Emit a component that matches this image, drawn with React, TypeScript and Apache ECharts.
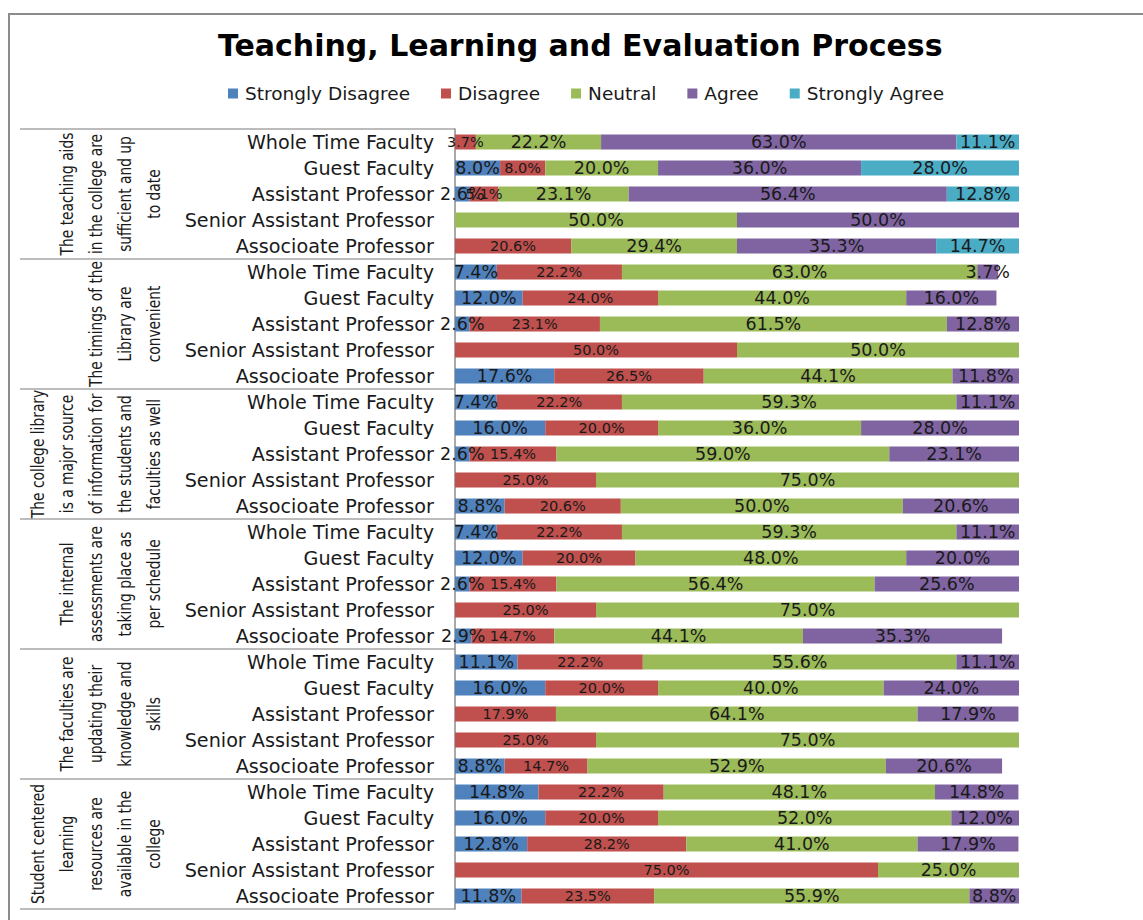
import React, { useEffect, useRef } from "react";
import * as echarts from "echarts";

const titleText = "Teaching, Learning and Evaluation Process";
const seriesNames = ["Strongly Disagree", "Disagree", "Neutral", "Agree", "Strongly Agree"];
const seriesColors = ["#4F81BD", "#C0504D", "#9BBB59", "#8064A2", "#4BACC6"];

const roles = [
  "Whole Time Faculty",
  "Guest Faculty",
  "Assistant Professor",
  "Senior Assistant Professor",
  "Associoate Professor",
];

const groupLabels = [
  ["The teaching aids", "in the college are", "sufficient and up", "to date"],
  ["The timings of the", "Library are", "convenient"],
  ["The college library", "is a major source", "of information for", "the students and", "faculties as well"],
  ["The internal", "assessments are", "taking place as", "per schedule"],
  ["The faculties are", "updating their", "knowledge and", "skills"],
  ["Student centered", "learning", "resources are", "available in the", "college"],
];

const stronglyDisagree = [
  0, 8.0, 2.6, 0, 0,
  7.4, 12.0, 2.6, 0, 17.6,
  7.4, 16.0, 2.6, 0, 8.8,
  7.4, 12.0, 2.6, 0, 2.9,
  11.1, 16.0, 0, 0, 8.8,
  14.8, 16.0, 12.8, 0, 11.8,
];
const disagree = [
  3.7, 8.0, 5.1, 0, 20.6,
  22.2, 24.0, 23.1, 50.0, 26.5,
  22.2, 20.0, 15.4, 25.0, 20.6,
  22.2, 20.0, 15.4, 25.0, 14.7,
  22.2, 20.0, 17.9, 25.0, 14.7,
  22.2, 20.0, 28.2, 75.0, 23.5,
];
const neutral = [
  22.2, 20.0, 23.1, 50.0, 29.4,
  63.0, 44.0, 61.5, 50.0, 44.1,
  59.3, 36.0, 59.0, 75.0, 50.0,
  59.3, 48.0, 56.4, 75.0, 44.1,
  55.6, 40.0, 64.1, 75.0, 52.9,
  48.1, 52.0, 41.0, 25.0, 55.9,
];
const agree = [
  63.0, 36.0, 56.4, 50.0, 35.3,
  3.7, 16.0, 12.8, 0, 11.8,
  11.1, 28.0, 23.1, 0, 20.6,
  11.1, 20.0, 25.6, 0, 35.3,
  11.1, 24.0, 17.9, 0, 20.6,
  14.8, 12.0, 17.9, 0, 8.8,
];
const stronglyAgree = [
  11.1, 28.0, 12.8, 0, 14.7,
  0, 0, 0, 0, 0,
  0, 0, 0, 0, 0,
  0, 0, 0, 0, 0,
  0, 0, 0, 0, 0,
  0, 0, 0, 0, 0,
];

const seriesValues = [stronglyDisagree, disagree, neutral, agree, stronglyAgree];

// layout constants
const W = 1143;
const H = 920;
const GRID_LEFT = 455;
const GRID_RIGHT = 1019;
const GRID_TOP = 129;
const ROW_H = 26;
const GROUP_H = ROW_H * roles.length;
const GRID_BOTTOM = GRID_TOP + ROW_H * roles.length * groupLabels.length;
const LINE_COLOR = "#8c8c8c";
const FONT = "'DejaVu Sans', Verdana, sans-serif";
const NARROW = "'DejaVu Sans Condensed', 'DejaVu Sans', sans-serif";

export default function App() {
  const ref = useRef<HTMLDivElement>(null);

  useEffect(() => {
    if (!ref.current) return;
    const chart = echarts.init(ref.current, undefined, { renderer: "svg" });

    const categories: string[] = [];
    groupLabels.forEach((_, g) => roles.forEach((r) => categories.push(g + "|" + r)));

    const graphics: any[] = [];
    // chart frame
    graphics.push({
      type: "polyline",
      silent: true,
      shape: { points: [[9, H], [9, 14], [W, 14]] },
      style: { stroke: LINE_COLOR, lineWidth: 2, fill: null },
    });
    // group separators of the multi-level category axis
    for (let g = 0; g <= groupLabels.length; g++) {
      const y = GRID_TOP + g * GROUP_H;
      graphics.push({
        type: "line",
        silent: true,
        shape: { x1: 20, y1: y, x2: GRID_LEFT, y2: y },
        style: { stroke: "#a6a6a6", lineWidth: 1.5 },
      });
    }
    // rotated group labels
    groupLabels.forEach((lines, g) => {
      const cy = GRID_TOP + g * GROUP_H + GROUP_H / 2;
      const n = lines.length;
      lines.forEach((line, i) => {
        graphics.push({
          type: "text",
          silent: true,
          x: 153 - (n - 1 - i) * 29,
          y: cy,
          rotation: Math.PI / 2,
          scaleX: 0.83,
          style: {
            text: line,
            fontSize: 18.5,
            fontFamily: NARROW,
            fill: "#1a1a1a",
            align: "center",
            verticalAlign: "middle",
          },
        });
      });
    });

    const option: any = {
      animation: false,
      backgroundColor: "#ffffff",
      title: {
        text: titleText,
        left: 218,
        top: 30,
        padding: 0,
        textStyle: {
          fontFamily: FONT,
          fontWeight: "bold",
          fontSize: 30,
          color: "#000000",
        },
      },
      legend: {
        data: seriesNames,
        left: 228,
        top: 84,
        padding: 0,
        icon: "rect",
        itemWidth: 10,
        itemHeight: 10,
        itemGap: 31,
        textStyle: {
          fontFamily: FONT,
          fontSize: 18.5,
          color: "#1a1a1a",
          padding: [0, 0, 0, 2],
        },
      },
      grid: {
        left: GRID_LEFT,
        right: W - GRID_RIGHT,
        top: GRID_TOP,
        bottom: H - GRID_BOTTOM,
        containLabel: false,
      },
      xAxis: {
        type: "value",
        min: 0,
        max: 100,
        show: false,
        splitLine: { show: false },
      },
      yAxis: {
        type: "category",
        data: categories,
        inverse: true,
        axisLine: { show: true, lineStyle: { color: LINE_COLOR, width: 1.5 } },
        axisTick: { show: false },
        axisLabel: {
          margin: 21,
          fontFamily: FONT,
          fontSize: 19.2,
          color: "#1a1a1a",
          formatter: (v: string) => v.split("|")[1],
        },
      },
      graphic: graphics,
      series: seriesNames.map((name, s) => ({
        name,
        type: "bar",
        stack: "total",
        barWidth: 15,
        itemStyle: { color: seriesColors[s] },
        label: {
          show: true,
          position: "inside",
          fontFamily: FONT,
          fontSize: s === 1 ? 14.5 : 17.5,
          color: "#1a1a1a",
          formatter: (p: any) => (typeof p.value === "number" ? p.value.toFixed(1) + "%" : ""),
        },
        data: seriesValues[s].map((v) => (v > 0 ? v : "-")),
      })),
    };

    chart.setOption(option);
    return () => chart.dispose();
  }, []);

  return (
    <div
      ref={ref}
      style={{ position: "fixed", left: 0, top: 0, width: W, height: H, background: "#fff" }}
    />
  );
}
